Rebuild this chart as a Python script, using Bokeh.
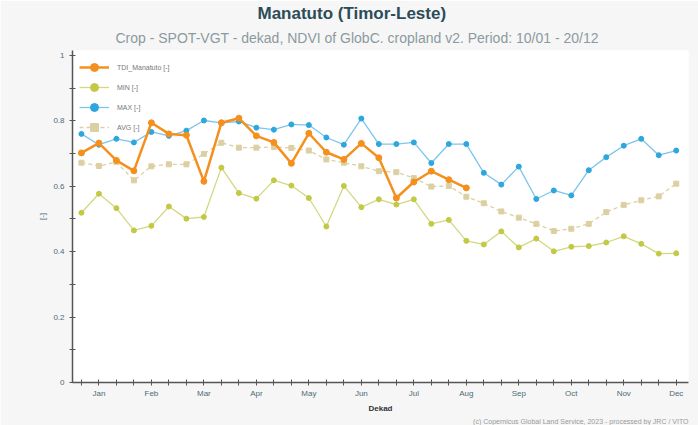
from bokeh.plotting import figure
from bokeh.models import Range1d, FixedTicker, Legend, LegendItem, Title, ColumnDataSource
from bokeh.embed import file_html
from bokeh.resources import INLINE

# ---- data ----
dekad = list(range(1, 36))
month_labels = ["Jan", "Feb", "Mar", "Apr", "May", "Jun",
                "Jul", "Aug", "Sep", "Oct", "Nov", "Dec"]
month_ticks = [2, 5, 8, 11, 14, 17, 20, 23, 26, 29, 32, 35]

tdi_manatuto = [0.702, 0.732, 0.679, 0.647, 0.794, 0.760, 0.756, 0.615, 0.794, 0.808,
                0.754, 0.734, 0.670, 0.762, 0.704, 0.682, 0.731, 0.687, 0.564, 0.613,
                0.646, 0.620, 0.595]
ndvi_min = [0.519, 0.577, 0.533, 0.465, 0.479, 0.538, 0.501, 0.506, 0.657, 0.579,
            0.562, 0.618, 0.602, 0.564, 0.477, 0.601, 0.536, 0.560, 0.544, 0.560,
            0.485, 0.497, 0.433, 0.422, 0.462, 0.413, 0.440, 0.401, 0.415, 0.417,
            0.428, 0.447, 0.424, 0.394, 0.395]
ndvi_max = [0.760, 0.727, 0.745, 0.734, 0.766, 0.754, 0.770, 0.801, 0.794, 0.798,
            0.779, 0.773, 0.789, 0.787, 0.749, 0.727, 0.807, 0.729, 0.729, 0.734,
            0.671, 0.729, 0.729, 0.641, 0.605, 0.660, 0.561, 0.587, 0.572, 0.649,
            0.689, 0.724, 0.745, 0.695, 0.709]
ndvi_avg = [0.672, 0.662, 0.674, 0.618, 0.661, 0.667, 0.667, 0.699, 0.733, 0.718,
            0.718, 0.720, 0.717, 0.709, 0.682, 0.672, 0.661, 0.646, 0.643, 0.625,
            0.599, 0.601, 0.568, 0.548, 0.523, 0.504, 0.485, 0.463, 0.470, 0.485,
            0.521, 0.543, 0.557, 0.569, 0.608]

y_ticks = [0, 0.2, 0.4, 0.6, 0.8, 1.0]
y_tick_labels = ["0", "0.2", "0.4", "0.6", "0.8", "1"]

FONT = "Liberation Sans"
C_TDI = "#f5901e"
C_MIN = "#c3c944"
C_MAX = "#2ea6de"
C_AVG = "#dcd0a2"
BG = "#f6f6f6"

p = figure(width=698, height=425, output_backend="svg", toolbar_location=None,
           title=None,
           x_range=Range1d(0.49, 35.7), y_range=Range1d(0, 1.015),
           min_border_left=72, min_border_right=10, min_border_top=50,
           min_border_bottom=43)
p.border_fill_color = BG
p.background_fill_color = "white"
p.outline_line_color = None
p.xgrid.visible = False
p.ygrid.visible = False

# titles
sub = Title(text="Crop - SPOT-VGT - dekad, NDVI of GlobC. cropland v2. Period: 10/01 - 20/12",
            align="left", offset=43, text_font=FONT, text_font_size="14px",
            text_font_style="normal", text_color="#8c9a9f", standoff=9)
main = Title(text="Manatuto (Timor-Leste)", align="left", offset=185, text_font=FONT,
             text_font_size="17px", text_font_style="bold", text_color="#2c4c58",
             standoff=2)
p.add_layout(sub, "above")
p.add_layout(main, "above")

# axes
xa = p.xaxis[0]
xa.ticker = FixedTicker(ticks=dekad)
overrides = {d: "" for d in dekad}
for t, lab in zip(month_ticks, month_labels):
    overrides[t] = lab
xa.major_label_overrides = overrides
xa.axis_label = "Dekad"
xa.axis_label_text_font = FONT
xa.axis_label_text_font_size = "8px"
xa.axis_label_text_font_style = "bold"
xa.axis_label_text_color = "#333333"
xa.axis_label_standoff = 3
xa.major_label_text_font = FONT
xa.major_label_text_font_size = "8px"
xa.major_label_text_color = "#4d6b78"
xa.major_label_standoff = 3
xa.major_tick_in = 3
xa.major_tick_out = 3
xa.minor_tick_line_color = None
xa.axis_line_color = "#555555"
xa.axis_line_width = 1.5
xa.major_tick_line_color = "#555555"

ya = p.yaxis[0]
ya.ticker = FixedTicker(ticks=y_ticks, minor_ticks=[0.1, 0.3, 0.5, 0.7, 0.9])
ya.major_label_overrides = {t: s for t, s in zip(y_ticks, y_tick_labels)}
ya.axis_label = "[-]"
ya.axis_label_text_font = FONT
ya.axis_label_text_font_size = "8px"
ya.axis_label_text_font_style = "normal"
ya.axis_label_text_color = "#4d6b78"
ya.axis_label_standoff = 3
ya.major_label_text_font = FONT
ya.major_label_text_font_size = "8px"
ya.major_label_text_color = "#4d6b78"
ya.major_label_standoff = 5
ya.major_tick_in = 3
ya.major_tick_out = 3
ya.minor_tick_in = 3
ya.minor_tick_out = 3
ya.axis_line_color = "#555555"
ya.axis_line_width = 1.5
ya.major_tick_line_color = "#555555"
ya.minor_tick_line_color = "#555555"

# series
src_all = ColumnDataSource(dict(x=dekad, mn=ndvi_min, mx=ndvi_max, av=ndvi_avg))
src_tdi = ColumnDataSource(dict(x=dekad[:len(tdi_manatuto)], y=tdi_manatuto))

avg_l = p.line("x", "av", source=src_all, line_color=C_AVG, line_width=1.3, line_dash="4 3")
avg_m = p.scatter("x", "av", source=src_all, marker="square", size=5,
                  fill_color=C_AVG, line_color=C_AVG)
min_l = p.line("x", "mn", source=src_all, line_color="#d3d882", line_width=1.3)
min_m = p.scatter("x", "mn", source=src_all, marker="circle", size=5,
                  fill_color=C_MIN, line_color=C_MIN)
max_l = p.line("x", "mx", source=src_all, line_color="#7cc6ec", line_width=1.3)
max_m = p.scatter("x", "mx", source=src_all, marker="circle", size=5,
                  fill_color=C_MAX, line_color=C_MAX)
tdi_l = p.line("x", "y", source=src_tdi, line_color=C_TDI, line_width=2.5)
tdi_m = p.scatter("x", "y", source=src_tdi, marker="circle", size=6,
                  fill_color=C_TDI, line_color=C_TDI)

legend = Legend(items=[
    LegendItem(label="TDI_Manatuto [-]", renderers=[tdi_l, tdi_m]),
    LegendItem(label="MIN [-]", renderers=[min_l, min_m]),
    LegendItem(label="MAX [-]", renderers=[max_l, max_m]),
    LegendItem(label="AVG [-]", renderers=[avg_l, avg_m]),
], location="top_left", margin=7, padding=5, spacing=0,
   glyph_width=30, glyph_height=20, label_height=20, label_standoff=8,
   label_text_font=FONT, label_text_font_size="7px", label_text_color="#777777",
   background_fill_alpha=0, border_line_color=None)
p.add_layout(legend)

footer = Title(text="(c) Copernicus Global Land Service, 2023 - processed by JRC / VITO",
               align="right", text_font=FONT, text_font_size="7px",
               text_font_style="normal", text_color="#9a9a9a", standoff=0)
p.add_layout(footer, "below")

html = file_html(p, INLINE)
with open("out.html", "w") as f:
    f.write(html)
